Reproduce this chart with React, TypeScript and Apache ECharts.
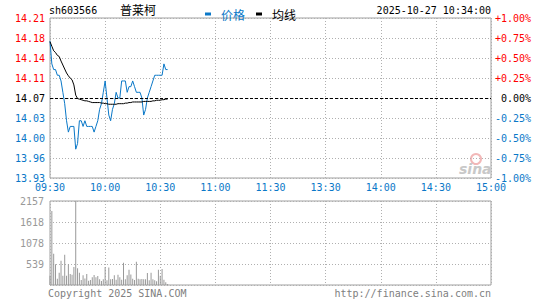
import React, { useEffect, useRef } from "react";
import * as echarts from "echarts";

const stockCode = "sh603566";
const stockName = "普莱柯";
const dateTime = "2025-10-27 10:34:00";
const copyright = "Copyright 2025 SINA.COM";
const siteUrl = "http://finance.sina.com.cn";
const legendNames = ["价格", "均线"];
const prevClose = 14.07;
const timeLabels = ["09:30", "10:00", "10:30", "11:00", "11:30", "13:30", "14:00", "14:30", "15:00"];
const volumeTickLabels = ["", "539", "1078", "1618", "2157"];
const volumeMax = 2157;

const prices = [
  14.17, 14.13, 14.12, 14.12, 14.11, 14.11, 14.10, 14.08, 14.06, 14.03,
  14.01, 14.02, 14.02, 14.02, 13.98, 13.99, 14.03, 14.03, 14.02, 14.03,
  14.02, 14.02, 14.02, 14.02, 14.01, 14.02, 14.03, 14.05, 14.06, 14.08,
  14.10, 14.07, 14.04, 14.03, 14.05, 14.06, 14.08, 14.07, 14.07, 14.10,
  14.10, 14.10, 14.08, 14.09, 14.09, 14.10, 14.09, 14.08, 14.08, 14.08,
  14.07, 14.04, 14.05, 14.07, 14.08, 14.09, 14.10, 14.11, 14.11, 14.11,
  14.11, 14.11, 14.13, 14.12, 14.12,
];

const avgPrices = [
  14.169, 14.161, 14.153, 14.150, 14.145, 14.143, 14.135, 14.128, 14.121, 14.114,
  14.109, 14.105, 14.102, 14.093, 14.075, 14.069, 14.068, 14.067, 14.066, 14.065,
  14.065, 14.064, 14.063, 14.062, 14.062, 14.062, 14.062, 14.062, 14.061, 14.061,
  14.060, 14.060, 14.059, 14.059, 14.059, 14.059, 14.059, 14.060, 14.060, 14.060,
  14.060, 14.061, 14.061, 14.062, 14.062, 14.063, 14.063, 14.063, 14.063, 14.063,
  14.063, 14.064, 14.064, 14.064, 14.064, 14.064, 14.065, 14.065, 14.066, 14.066,
  14.066, 14.067, 14.067, 14.068, 14.068,
];

const volumes = [
  235, 1900, 800, 535, 160, 315, 620, 235, 775, 235,
  535, 280, 260, 465, 2157, 430, 315, 130, 250, 170,
  280, 110, 130, 200, 255, 200, 230, 145, 105, 150,
  460, 120, 450, 150, 155, 250, 135, 265, 200, 135,
  570, 150, 250, 390, 270, 160, 130, 600, 160, 150,
  155, 150, 150, 310, 120, 315, 150, 120, 95, 390,
  240, 410, 135, 70, 25,
];

const RED = "#ff0000";
const BLUE = "#0a78c8";
const GRAY = "#999999";
const MONO = "DejaVu Sans Mono";
const CJK = "Noto Sans CJK SC";

const pct = (p: number) => (p / prevClose - 1) * 100;
const signColor = (v: any) => {
  const n = Number(v);
  if (Math.abs(n) < 1e-9) return "#000000";
  return n > 0 ? RED : BLUE;
};

export default function App() {
  const ref = useRef<HTMLDivElement>(null);
  useEffect(() => {
    if (!ref.current) return;
    const chart = echarts.init(ref.current, undefined, { renderer: "svg" });
    const splitDotted = { show: true, lineStyle: { color: "#b0b0b0", type: [1, 2], width: 1 } };
    chart.setOption({
      animation: false,
      backgroundColor: "#ffffff",
      grid: [
        { left: 50, top: 18, width: 441, height: 160, show: true, borderColor: "#a0a0a0", borderWidth: 1 },
        { left: 50, top: 201, width: 441, height: 84, show: true, borderColor: "#a0a0a0", borderWidth: 1 },
      ],
      legend: {
        left: 200,
        top: 3,
        icon: "rect",
        itemWidth: 6,
        itemHeight: 3,
        itemGap: 11,
        selectedMode: false,
        data: [
          { name: legendNames[0], itemStyle: { color: BLUE }, textStyle: { color: BLUE } },
          { name: legendNames[1], itemStyle: { color: "#000" }, textStyle: { color: "#000" } },
        ],
        textStyle: { fontFamily: CJK, fontSize: 12, padding: [0, 0, 0, 5] },
      },
      xAxis: [
        {
          type: "value", gridIndex: 0, min: 0, max: 240, interval: 30,
          axisLine: { show: false }, axisTick: { show: false },
          axisLabel: {
            show: true, margin: 4, color: BLUE, fontFamily: MONO, fontSize: 10,
            formatter: (v: number) => timeLabels[Math.round(v / 30)] ?? "",
          },
          splitLine: splitDotted,
        },
        {
          type: "value", gridIndex: 1, min: 0, max: 240, interval: 30,
          axisLine: { show: false }, axisTick: { show: false },
          axisLabel: { show: false },
          splitLine: splitDotted,
        },
      ],
      yAxis: [
        {
          type: "value", gridIndex: 0, position: "left", min: -1, max: 1, interval: 0.25,
          axisLine: { show: false }, axisTick: { show: false },
          axisLabel: {
            margin: 5, fontFamily: MONO, fontSize: 10, color: signColor,
            formatter: (v: number) => (prevClose * (1 + v / 100)).toFixed(2),
          },
          splitLine: splitDotted,
        },
        {
          type: "value", gridIndex: 0, position: "right", min: -1, max: 1, interval: 0.25,
          axisLine: { show: false }, axisTick: { show: false },
          axisLabel: {
            margin: 40, align: "right", fontFamily: MONO, fontSize: 10, color: signColor,
            formatter: (v: number) => {
              if (Math.abs(v) < 1e-9) return "0.00%";
              return (v > 0 ? "+" : "") + v.toFixed(2) + "%";
            },
          },
          splitLine: { show: false },
        },
        {
          type: "value", gridIndex: 1, min: 0, max: volumeMax, interval: volumeMax / 4,
          axisLine: { show: false }, axisTick: { show: false },
          axisLabel: {
            margin: 6, fontFamily: MONO, fontSize: 10, color: GRAY,
            formatter: (v: number) => volumeTickLabels[Math.round(v / (volumeMax / 4))] ?? "",
          },
          splitLine: splitDotted,
        },
      ],
      series: [
        {
          name: legendNames[0], type: "line", xAxisIndex: 0, yAxisIndex: 0,
          data: prices.map((p, i) => [i, pct(p)]),
          showSymbol: false, symbol: "none",
          lineStyle: { color: BLUE, width: 1 }, itemStyle: { color: BLUE },
          markLine: {
            silent: true, symbol: ["none", "none"], label: { show: false },
            lineStyle: { color: "#000", type: [3, 2], width: 1 },
            data: [{ yAxis: 0 }],
          },
          z: 3,
        },
        {
          name: legendNames[1], type: "line", xAxisIndex: 0, yAxisIndex: 0,
          data: avgPrices.map((p, i) => [i, pct(p)]),
          showSymbol: false, symbol: "none",
          lineStyle: { color: "#000", width: 1 }, itemStyle: { color: "#000" },
          z: 4,
        },
        {
          name: "成交量", type: "bar", xAxisIndex: 1, yAxisIndex: 2,
          data: volumes.map((v, i) => [i, v]),
          barWidth: 1,
          itemStyle: { color: GRAY },
        },
      ],
      graphic: [
        { type: "text", left: 49, top: 5, style: { text: stockCode, fontFamily: MONO, fontSize: 10, fill: "#000" } },
        { type: "text", left: 120, top: 3, style: { text: stockName, fontFamily: CJK, fontSize: 12, fill: "#000" } },
        { type: "text", right: 54, top: 5, style: { text: dateTime, fontFamily: MONO, fontSize: 10, fill: "#000" } },
        { type: "text", left: 48, top: 288, style: { text: copyright, fontFamily: MONO, fontSize: 10, fill: "#808080" } },
        { type: "text", right: 54, top: 288, style: { text: siteUrl, fontFamily: MONO, fontSize: 10, fill: "#808080" } },
        {
          type: "circle", shape: { cx: 476, cy: 159, r: 5 }, silent: true,
          style: { fill: "none", stroke: "#f2b8b8", lineWidth: 2 },
        },
        {
          type: "text", left: 459, top: 162, silent: true,
          style: { text: "sina", fontFamily: "DejaVu Sans", fontStyle: "italic", fontWeight: "bold", fontSize: 14, fill: "#c8c8c8" },
        },
      ],
    });
    return () => chart.dispose();
  }, []);
  return (
    <div
      ref={ref}
      style={{ position: "absolute", left: 0, top: 0, width: 545, height: 300 }}
    />
  );
}
